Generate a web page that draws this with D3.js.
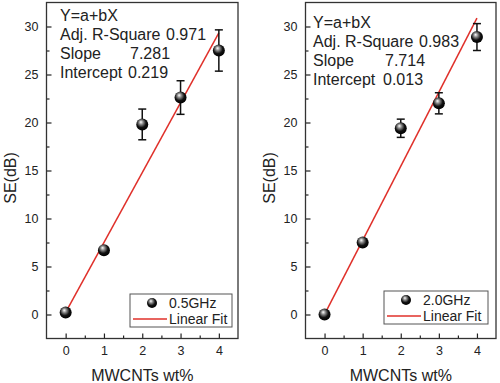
<!DOCTYPE html>
<html>
<head>
<meta charset="utf-8">
<script src="https://cdn.jsdelivr.net/npm/d3@7"></script>
<style>
  body { margin: 0; background: #fff; }
  text { font-family: "Liberation Sans", Arial, sans-serif; fill: #222; }
</style>
</head>
<body>
<div id="chart"></div>
<script>
// MWCNT loading (wt%)
const loading = [0, 1, 2, 3, 4];

// 0.5 GHz panel
const se05 = [0.2, 6.7, 19.8, 22.6, 27.5];
const err05 = [0.2, 0.35, 1.6, 1.75, 2.15];
const fit05 = { a: 0.219, b: 7.281, r2: "0.971", slope: "7.281", icpt: "0.219" };

// 2.0 GHz panel
const se20 = [0.0, 7.5, 19.4, 22.0, 28.9];
const err20 = [0.15, 0.3, 0.95, 1.1, 1.4];
const fit20 = { a: 0.013, b: 7.714, r2: "0.983", slope: "7.714", icpt: "0.013" };

const xTicks = [0, 1, 2, 3, 4];
const yTicks = [0, 5, 10, 15, 20, 25, 30];

const W = 500, H = 383;

const svg = d3.select("#chart").append("svg")
  .attr("width", W).attr("height", H);

// sphere look for the markers
const defs = svg.append("defs");
const grad = defs.append("radialGradient").attr("id", "ball")
  .attr("cx", "45%").attr("cy", "40%").attr("r", "60%")
  .attr("fx", "38%").attr("fy", "30%");
grad.append("stop").attr("offset", "0%").attr("stop-color", "#fff");
grad.append("stop").attr("offset", "30%").attr("stop-color", "#888");
grad.append("stop").attr("offset", "65%").attr("stop-color", "#111");
grad.append("stop").attr("offset", "100%").attr("stop-color", "#000");

function panel(opt) {
  const x = d3.scaleLinear().domain([-0.5, 4.5]).range([opt.x0, opt.x1]);
  const y = d3.scaleLinear().domain([-2.5, 32.5]).range([338.5, 2.5]);
  const g = svg.append("g");

  // minor ticks
  g.append("g").attr("transform", "translate(" + opt.x0 + ",0)")
    .call(d3.axisLeft(y).tickValues([2.5, 7.5, 12.5, 17.5, 22.5, 27.5]).tickSize(-3).tickFormat(""))
    .call(a => a.select(".domain").remove());
  g.append("g").attr("transform", "translate(0,338.5)")
    .call(d3.axisBottom(x).tickValues([0.5, 1.5, 2.5, 3.5]).tickSize(-3).tickFormat(""))
    .call(a => a.select(".domain").remove());

  // major ticks
  const ya = g.append("g").attr("transform", "translate(" + opt.x0 + ",0)")
    .call(d3.axisLeft(y).tickValues(yTicks).tickFormat(d3.format("d")).tickSize(-5).tickPadding(8));
  ya.select(".domain").remove();
  const xa = g.append("g").attr("transform", "translate(0,338.5)")
    .call(d3.axisBottom(x).tickValues(xTicks).tickFormat(d3.format("d")).tickSize(-5).tickPadding(8));
  xa.select(".domain").remove();
  g.selectAll(".tick line").attr("stroke", "#222").attr("stroke-width", 1.2);
  g.selectAll(".tick text").style("font-size", "12.5px").attr("fill", "#222");

  // frame
  g.append("rect")
    .attr("x", opt.x0).attr("y", 2.5)
    .attr("width", opt.x1 - opt.x0).attr("height", 336)
    .attr("fill", "none").attr("stroke", "#333").attr("stroke-width", 1.3);

  // axis titles
  g.append("text")
    .attr("transform", "translate(" + (opt.x0 - 31) + ",178) rotate(-90)")
    .attr("text-anchor", "middle")
    .style("font-size", "16px")
    .text("SE(dB)");
  g.append("text")
    .attr("x", (opt.x0 + opt.x1) / 2).attr("y", 381)
    .attr("text-anchor", "middle")
    .style("font-size", "16px")
    .text("MWCNTs wt%");

  // linear fit
  g.append("line")
    .attr("x1", x(0)).attr("y1", y(opt.fit.a))
    .attr("x2", x(4)).attr("y2", y(opt.fit.a + opt.fit.b * 4))
    .attr("stroke", "#e0302a").attr("stroke-width", 1.5);

  // error bars
  const pts = loading.map((d, i) => ({ x: d, y: opt.se[i], e: opt.err[i] }));
  const eb = g.selectAll(".eb").data(pts.filter(d => d.e > 0.5)).enter().append("g");
  eb.append("line")
    .attr("x1", d => x(d.x)).attr("x2", d => x(d.x))
    .attr("y1", d => y(d.y - d.e)).attr("y2", d => y(d.y + d.e))
    .attr("stroke", "#111").attr("stroke-width", 1.5);
  [-1, 1].forEach(s => {
    eb.append("line")
      .attr("x1", d => x(d.x) - 4).attr("x2", d => x(d.x) + 4)
      .attr("y1", d => y(d.y + s * d.e)).attr("y2", d => y(d.y + s * d.e))
      .attr("stroke", "#111").attr("stroke-width", 1.5);
  });

  g.selectAll(".pt").data(pts).enter().append("circle")
    .attr("cx", d => x(d.x)).attr("cy", d => y(d.y)).attr("r", 6)
    .attr("fill", "url(#ball)");

  // fit statistics
  const t = g.append("g").style("font-size", "16px");
  const labels = ["Y=a+bX", "Adj. R-Square", "Slope", "Intercept"];
  labels.forEach((r, i) => {
    t.append("text").attr("x", opt.tx).attr("y", opt.ty + i * 19).text(r);
  });
  t.append("text").attr("x", opt.tx + opt.vx[0]).attr("y", opt.ty + 19).text(opt.fit.r2);
  t.append("text").attr("x", opt.tx + opt.vx[1]).attr("y", opt.ty + 38).text(opt.fit.slope);
  t.append("text").attr("x", opt.tx + opt.vx[2]).attr("y", opt.ty + 57).text(opt.fit.icpt);

  // legend
  const L = opt.leg;
  g.append("rect").attr("x", L.x).attr("y", L.y).attr("width", L.w).attr("height", 33)
    .attr("fill", "#fff").attr("stroke", "#555").attr("stroke-width", 1);
  g.append("circle").attr("cx", L.x + 22).attr("cy", L.y + 9).attr("r", 5)
    .attr("fill", "url(#ball)");
  g.append("text").attr("x", L.x + 39).attr("y", L.y + 14).style("font-size", "14px").text(opt.label);
  g.append("line").attr("x1", L.x + 3).attr("x2", L.x + 37)
    .attr("y1", L.y + 25).attr("y2", L.y + 25)
    .attr("stroke", "#e0302a").attr("stroke-width", 1.5);
  g.append("text").attr("x", L.x + 39).attr("y", L.y + 30).style("font-size", "14px").text("Linear Fit");
}

panel({ x0: 46.5, x1: 238, se: se05, err: err05, fit: fit05, label: "0.5GHz",
        tx: 60, ty: 21, vx: [106, 70, 68],
        leg: { x: 130, y: 294, w: 102 } });
panel({ x0: 305.5, x1: 496, se: se20, err: err20, fit: fit20, label: "2.0GHz",
        tx: 313, ty: 28, vx: [106, 72, 70],
        leg: { x: 384, y: 291, w: 104 } });
</script>
</body>
</html>
